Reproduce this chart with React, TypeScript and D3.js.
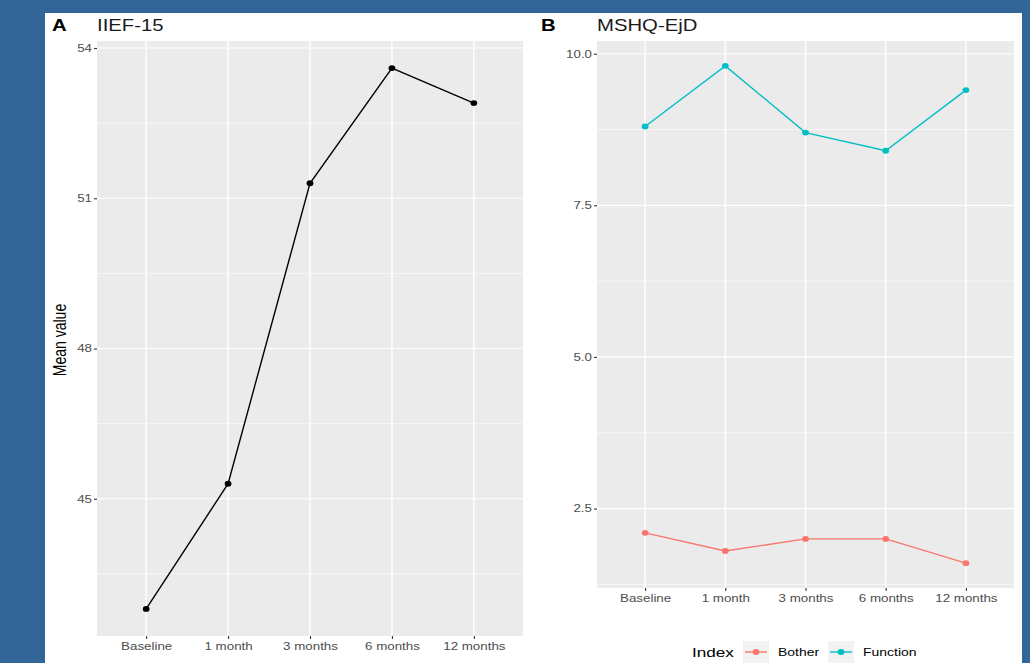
import { useEffect, useRef } from 'react';
import * as d3 from 'd3';

// time points shared by both panels
const timepoints = ['Baseline', '1 month', '3 months', '6 months', '12 months'];

// panel A: IIEF-15 mean values
const iiefValues = [42.8, 45.3, 51.3, 53.6, 52.9];
const iiefTicks = [45, 48, 51, 54];

// panel B: MSHQ-EjD mean values by index
const seriesNames = ['Bother', 'Function'];
const botherValues = [2.1, 1.8, 2.0, 2.0, 1.6];
const functionValues = [8.8, 9.8, 8.7, 8.4, 9.4];
const mshqTicks = [2.5, 5.0, 7.5, 10.0];

const colours: Record<string, string> = { Bother: '#F8766D', Function: '#00BFC4' };

const W = 1030;
const H = 663;
const font = '"Liberation Sans", Arial, sans-serif';
// the picture is stretched sideways, so text is widened to match
const SX = 1.27;

interface PanelProps {
  left: number;
  right: number;
  top: number;
  bottom: number;
  ticks: number[];
  fmt: (v: number) => string;
  series: { name: string; values: number[]; colour: string }[];
  letter: string;
  title: string;
  letterX: number;
}

function Panel({ left, right, top, bottom, ticks, fmt, series, letter, title, letterX }: PanelProps) {
  const gx = useRef<SVGGElement>(null);
  const gy = useRef<SVGGElement>(null);

  const x = d3.scalePoint<string>().domain(timepoints).range([left, right]).padding(0.6);

  // ggplot-like 5% expansion of the data range
  const all = series.flatMap(s => s.values);
  const [lo, hi] = d3.extent(all) as [number, number];
  const pad = (hi - lo) * 0.05;
  const y = d3.scaleLinear().domain([lo - pad, hi + pad]).range([bottom, top]);

  const step = ticks[1] - ticks[0];
  const minor = [ticks[0] - step / 2, ...ticks.map(t => t + step / 2)].filter(
    v => v > lo - pad && v < hi + pad
  );

  useEffect(() => {
    if (gx.current) {
      const g = d3.select(gx.current);
      g.call(d3.axisBottom(x).tickSize(3).tickPadding(4));
      g.select('.domain').remove();
      g.selectAll('line').attr('stroke', '#333333').attr('stroke-width', 1.1);
      g.selectAll('text')
        .attr('fill', '#4d4d4d')
        .attr('font-size', 10.5)
        .attr('font-family', font)
        .attr('transform', `scale(${SX},1)`);
    }
    if (gy.current) {
      const g = d3.select(gy.current);
      g.call(d3.axisLeft(y).tickValues(ticks).tickFormat(d => fmt(d as number)).tickSize(3).tickPadding(3));
      g.select('.domain').remove();
      g.selectAll('line').attr('stroke', '#333333').attr('stroke-width', 1.1);
      g.selectAll('text')
        .attr('fill', '#4d4d4d')
        .attr('font-size', 10.5)
        .attr('font-family', font)
        .attr('x', -5 / SX)
        .attr('transform', `scale(${SX},1)`);
    }
  });

  const line = d3
    .line<number>()
    .x((d, i) => x(timepoints[i]) as number)
    .y(d => y(d));

  return (
    <g>
      <text transform={`translate(${letterX},31) scale(${SX},1)`} fontFamily={font} fontWeight="bold" fontSize={16} fill="#000">
        {letter}
      </text>
      <text transform={`translate(${left},31) scale(${SX},1)`} fontFamily={font} fontSize={16} fill="#1a1a1a">
        {title}
      </text>
      <rect x={left} y={top} width={right - left} height={bottom - top} fill="#EBEBEB" />
      {minor.map(v => (
        <line key={'mn' + v} x1={left} x2={right} y1={y(v)} y2={y(v)} stroke="#fff" strokeWidth={0.6} />
      ))}
      {ticks.map(v => (
        <line key={'mj' + v} x1={left} x2={right} y1={y(v)} y2={y(v)} stroke="#fff" strokeWidth={1.2} />
      ))}
      {timepoints.map(t => (
        <line key={t} x1={x(t)} x2={x(t)} y1={top} y2={bottom} stroke="#fff" strokeWidth={1.4} />
      ))}
      {series.map(s => (
        <g key={s.name}>
          <path d={line(s.values) as string} fill="none" stroke={s.colour} strokeWidth={1.4} />
          {s.values.map((v, i) => (
            <ellipse key={i} cx={x(timepoints[i])} cy={y(v)} rx={3.4} ry={2.9} fill={s.colour} />
          ))}
        </g>
      ))}
      <g ref={gx} transform={`translate(0,${bottom})`} />
      <g ref={gy} transform={`translate(${left},0)`} />
    </g>
  );
}

export default function App() {
  const legendY = 652;
  return (
    <svg width={W} height={H} style={{ position: 'absolute', left: 0, top: 0 }}>
      <rect x={0} y={0} width={W} height={H} fill="#326699" />
      <rect x={45} y={13} width={977} height={H - 13} fill="#ffffff" />

      <Panel
        left={97}
        right={523}
        top={41}
        bottom={636}
        ticks={iiefTicks}
        fmt={d3.format('d')}
        series={[{ name: 'IIEF', values: iiefValues, colour: '#000000' }]}
        letter="A"
        title="IIEF-15"
        letterX={52}
      />
      <text
        transform={`translate(66,340) rotate(-90) scale(1,${SX})`}
        textAnchor="middle"
        fontFamily={font}
        fontSize={14}
        fill="#000"
      >
        Mean value
      </text>

      <Panel
        left={597}
        right={1014}
        top={41}
        bottom={588}
        ticks={mshqTicks}
        fmt={d3.format('.1f')}
        series={[
          { name: 'Bother', values: botherValues, colour: colours.Bother },
          { name: 'Function', values: functionValues, colour: colours.Function },
        ]}
        letter="B"
        title="MSHQ-EjD"
        letterX={541}
      />

      {/* legend */}
      <text transform={`translate(692,${legendY + 5}) scale(${SX},1)`} fontFamily={font} fontSize={13.5} fill="#000">
        Index
      </text>
      {seriesNames.map((name, i) => {
        const kx = 743 + i * 85;
        return (
          <g key={name}>
            <rect x={kx} y={legendY - 11} width={26} height={22} fill="#F2F2F2" />
            <line x1={kx + 2} x2={kx + 24} y1={legendY} y2={legendY} stroke={colours[name]} strokeWidth={1.4} />
            <ellipse cx={kx + 13} cy={legendY} rx={3.4} ry={2.9} fill={colours[name]} />
            <text transform={`translate(${kx + 35},${legendY + 4}) scale(${SX},1)`} fontFamily={font} fontSize={11} fill="#000">
              {name}
            </text>
          </g>
        );
      })}
    </svg>
  );
}
